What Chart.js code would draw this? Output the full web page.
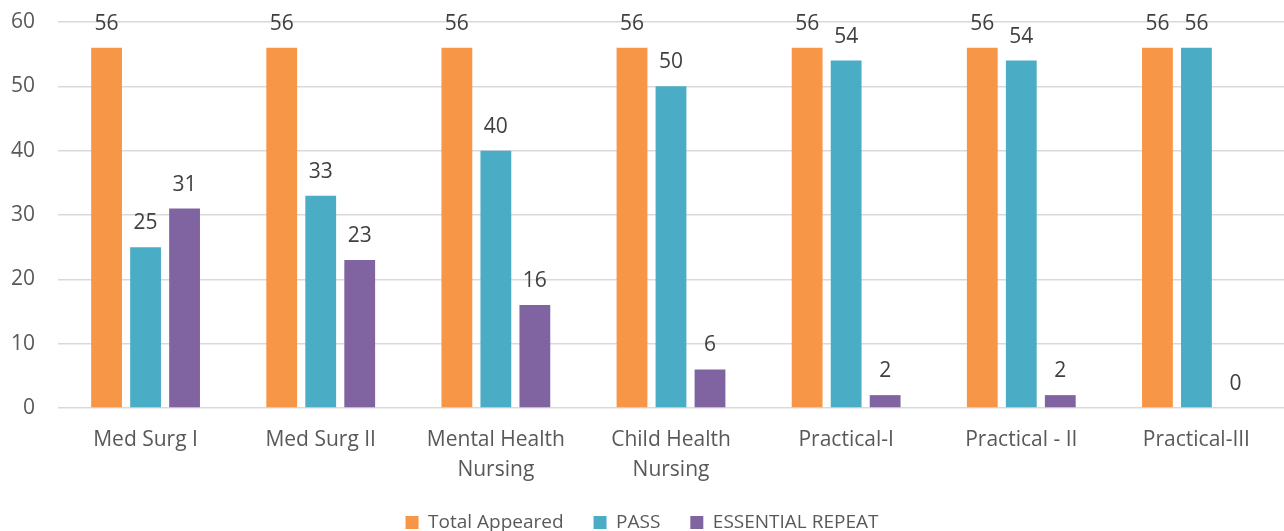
<!DOCTYPE html>
<html lang="en">
<head>
  <meta charset="UTF-8" />
  <title>Results</title>
  <script src="https://cdn.jsdelivr.net/npm/chart.js"></script>
  <style>
    html, body { margin: 0; padding: 0; background: #fff; }
    #wrap { width: 1284px; height: 531px; position: relative; }
  </style>
</head>
<body>
  <div id="wrap"><canvas id="resultChart"></canvas></div>
  <script>
    // data
    const categories = [
      'Med Surg I',
      'Med Surg II',
      ['Mental Health', 'Nursing'],
      ['Child Health', 'Nursing'],
      'Practical-I',
      'Practical - II',
      'Practical-III'
    ];
    const totalAppeared = [56, 56, 56, 56, 56, 56, 56];
    const pass = [25, 33, 40, 50, 54, 54, 56];
    const essentialRepeat = [31, 23, 16, 6, 2, 2, 0];
    const yTicks = [0, 10, 20, 30, 40, 50, 60];

    const FONT = "'Open Sans', sans-serif";
    const TEXT = '#595959';

    // value labels over the bars
    const valueLabels = {
      id: 'valueLabels',
      afterDatasetsDraw(chart) {
        const ctx = chart.ctx;
        ctx.save();
        ctx.font = '21px ' + FONT;
        ctx.fillStyle = '#404040';
        ctx.textAlign = 'center';
        ctx.textBaseline = 'middle';
        chart.data.datasets.forEach((ds, i) => {
          chart.getDatasetMeta(i).data.forEach((bar, j) => {
            ctx.fillText(ds.data[j], bar.x, bar.y - 24);
          });
        });
        ctx.restore();
      }
    };

    new Chart(document.getElementById('resultChart'), {
      type: 'bar',
      data: {
        labels: categories,
        datasets: [
          { label: 'Total Appeared', data: totalAppeared, backgroundColor: '#F79646' },
          { label: 'PASS', data: pass, backgroundColor: '#4BACC6' },
          { label: 'ESSENTIAL REPEAT', data: essentialRepeat, backgroundColor: '#8064A2' }
        ]
      },
      options: {
        responsive: true,
        maintainAspectRatio: false,
        animation: false,
        categoryPercentage: 0.668,
        barPercentage: 0.79,
        layout: { padding: { top: 22, right: 0, left: 0, bottom: -11 } },
        plugins: {
          legend: {
            position: 'bottom',
            labels: {
              boxWidth: 13,
              boxHeight: 13,
              padding: 30,
              color: TEXT,
              font: { family: FONT, size: 19, lineHeight: 1.0 }
            }
          },
          tooltip: { enabled: false }
        },
        scales: {
          x: {
            grid: { display: false },
            border: { display: false },
            ticks: {
              color: TEXT,
              padding: 9,
              maxRotation: 0,
              autoSkip: false,
              font: { family: FONT, size: 21, lineHeight: 1.43 }
            },
            afterFit(scale) { scale.height = 75; }
          },
          y: {
            min: 0,
            max: 60,
            afterBuildTicks(scale) { scale.ticks = yTicks.map(v => ({ value: v })); },
            grid: { color: '#D9D9D9', lineWidth: 1.5, drawTicks: false },
            border: { display: false },
            ticks: {
              color: TEXT,
              padding: 23,
              font: { family: FONT, size: 21 }
            },
            afterFit(scale) {
              scale.width = 58;
              // tick padding should not push the plot down
              scale.paddingTop = 0;
              scale.paddingBottom = 0;
            }
          }
        }
      },
      plugins: [valueLabels]
    });
  </script>
</body>
</html>
